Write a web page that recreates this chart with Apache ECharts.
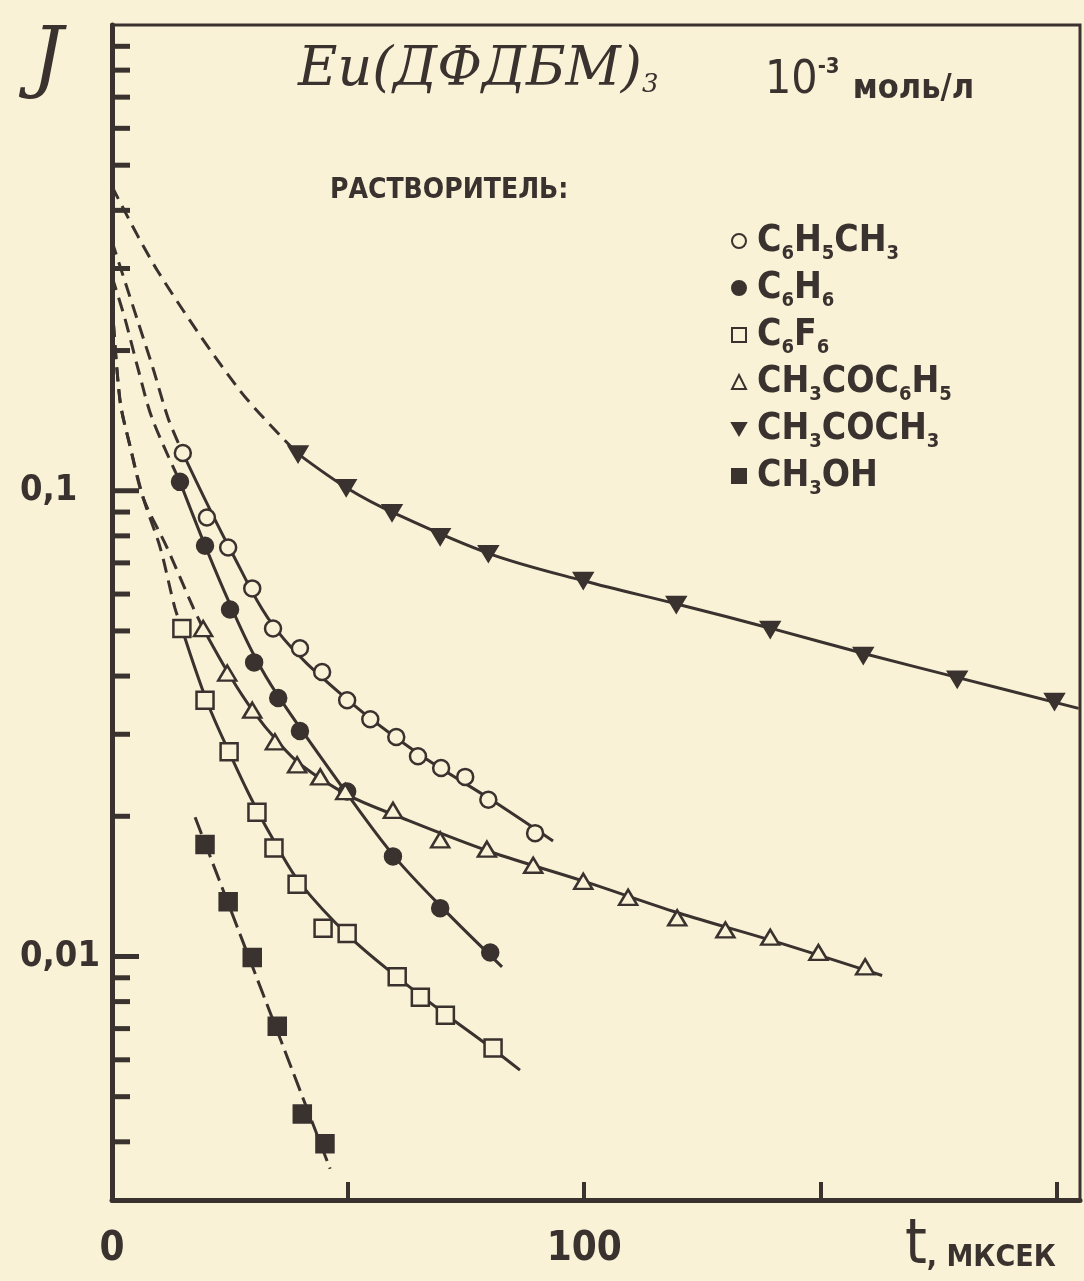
<!DOCTYPE html>
<html lang="ru">
<head>
<meta charset="UTF-8" />
<title>Eu(ДФДБМ)3 — кинетика затухания</title>
<script src="https://cdn.jsdelivr.net/npm/echarts@6.0.0/dist/echarts.min.js"></script>
<style>
  html, body { margin: 0; padding: 0; background: #faf2d6; }
  #chart { width: 1084px; height: 1281px; }
</style>
</head>
<body>
<div id="chart"></div>
<script>
// растворители (порядок как в легенде)
const solvents = ['C6H5CH3', 'C6H6', 'C6F6', 'CH3COC6H5', 'CH3COCH3', 'CH3OH'];

const toluenePts = [[15.0,0.1205],[20.1,0.0876],[24.6,0.0755],[29.7,0.0617],[34.1,0.0506],[39.8,0.0459],[44.5,0.0408],[49.8,0.0355],[54.7,0.0323],[60.2,0.0296],[64.8,0.0269],[69.7,0.0254],[74.8,0.0243],[79.7,0.0217],[89.6,0.0184]];
const benzenePts = [[14.4,0.1045],[19.7,0.0762],[25.0,0.0556],[30.1,0.0428],[35.2,0.0359],[39.8,0.0305],[49.8,0.0226],[59.5,0.0164],[69.5,0.0127],[80.1,0.0102]];
const c6f6Pts = [[14.8,0.0506],[19.7,0.0355],[24.8,0.0275],[30.7,0.0204],[34.3,0.0171],[39.2,0.0143],[44.7,0.0115],[49.8,0.0112],[60.4,0.00905],[65.3,0.00817],[70.6,0.00748],[80.7,0.00636]];
const acetophenonePts = [[19.3,0.0506],[24.4,0.0406],[29.7,0.0338],[34.5,0.0289],[39.2,0.0258],[44.1,0.0243],[49.4,0.0226],[59.5,0.0206],[69.5,0.0178],[79.4,0.0170],[89.2,0.0157],[99.8,0.0145],[109.3,0.0134],[119.7,0.0121],[129.9,0.0114],[139.4,0.0110],[149.6,0.0102],[159.5,0.0095]];
const acetonePts = [[39.4,0.120],[49.6,0.1015],[59.3,0.0897],[69.5,0.0797],[79.7,0.0733],[99.8,0.0642],[119.5,0.0570],[139.4,0.0504],[159.1,0.0443],[179.0,0.0394],[199.6,0.0353]];
const methanolPts = [[19.7,0.0174],[24.6,0.0131],[29.7,0.00995],[35.0,0.00708],[40.3,0.00459],[45.1,0.00396]];

// проведённые от руки кривые (опорные точки)
const tolueneCurve = [[15,0.1205],[25,0.075],[35,0.050],[50,0.0355],[65,0.0272],[80,0.0218],[93.4,0.0177]];
const benzeneCurve = [[14.4,0.1045],[20,0.075],[25,0.057],[30,0.0445],[35,0.0365],[50,0.0222],[60,0.0163],[70,0.0127],[82.6,0.0095]];
const c6f6Curve = [[14.8,0.0506],[20,0.0355],[25,0.0272],[30,0.0213],[35,0.0172],[40,0.0143],[50,0.0111],[60,0.0091],[70,0.0076],[80,0.0064],[86.4,0.0057]];
const acetophenoneCurve = [[19.3,0.0506],[25,0.040],[30,0.0335],[35,0.0290],[40,0.0258],[50,0.0222],[60,0.0201],[80,0.0168],[100,0.0145],[120,0.0124],[140,0.0108],[163.1,0.0091]];
const acetoneCurve = [[39.4,0.120],[50,0.101],[60,0.0893],[80,0.0732],[100,0.0640],[120,0.0570],[140,0.0505],[160,0.0445],[180,0.0395],[204.7,0.0341]];
const methanolCurve = [[17.6,0.0199],[46.2,0.0035]];

// пунктирная экстраполяция к t = 0
const tolueneDash = [[0,0.343],[5.3,0.234],[8.7,0.183],[11.9,0.143],[15.0,0.1205]];
const benzeneDash = [[0,0.288],[2.75,0.234],[5.5,0.183],[8.5,0.143],[14.4,0.1045]];
const c6f6Dash = [[0,0.255],[1.7,0.156],[3.8,0.125],[6.6,0.0966],[10.2,0.0755],[13.3,0.0561],[14.8,0.0506]];
const acetophenoneDash = [[0,0.255],[1.7,0.156],[3.8,0.125],[6.6,0.0966],[11.65,0.0755],[17.2,0.0561],[19.3,0.0506]];
const acetoneDash = [[0,0.45],[9.7,0.296],[27.1,0.164],[39.4,0.120]];

// шкалы
const xTicks = [0, 50, 100, 150, 200];
const xLabels = [0, 100];
const yMajorTicks = [0.01, 0.1];
const yMinorTicks = [0.004,0.005,0.006,0.007,0.008,0.009,0.02,0.03,0.04,0.05,0.06,0.07,0.08,0.09,0.2,0.3,0.4,0.5,0.6,0.7,0.8,0.9];

const ink = '#3a322e';
const paper = '#faf2d6';
const condensed = "'DejaVu Sans Condensed', 'Liberation Sans Narrow', 'DejaVu Sans', sans-serif";

const chart = echarts.init(document.getElementById('chart'));

const markerStyle = {
  'C6H5CH3':   { symbol: 'circle', size: 16, fill: paper },
  'C6H6':      { symbol: 'circle', size: 16, fill: ink },
  'C6F6':      { symbol: 'rect', size: 17, fill: paper },
  'CH3COC6H5': { symbol: 'triangle', size: [18, 15], fill: paper },
  'CH3COCH3':  { symbol: 'path://M0,0 L10,0 L5,8.5 Z', size: [18, 15], fill: ink },
  'CH3OH':     { symbol: 'rect', size: 17, fill: ink }
};

const legendText = {
  'C6H5CH3': 'C{s|6}H{s|5}CH{s|3}',
  'C6H6': 'C{s|6}H{s|6}',
  'C6F6': 'C{s|6}F{s|6}',
  'CH3COC6H5': 'CH{s|3}COC{s|6}H{s|5}',
  'CH3COCH3': 'CH{s|3}COCH{s|3}',
  'CH3OH': 'CH{s|3}OH'
};

const groups = [
  { name: 'C6H5CH3', pts: toluenePts, curve: tolueneCurve, dash: tolueneDash },
  { name: 'C6H6', pts: benzenePts, curve: benzeneCurve, dash: benzeneDash },
  { name: 'C6F6', pts: c6f6Pts, curve: c6f6Curve, dash: c6f6Dash },
  { name: 'CH3COC6H5', pts: acetophenonePts, curve: acetophenoneCurve, dash: acetophenoneDash },
  { name: 'CH3COCH3', pts: acetonePts, curve: acetoneCurve, dash: acetoneDash },
  { name: 'CH3OH', pts: methanolPts, curve: methanolCurve, dashedAll: true }
];

const series = [];
groups.forEach(g => {
  series.push({
    name: g.name + ' fit', type: 'line', data: g.curve, symbol: 'none',
    smooth: 0.35, silent: true, z: 2,
    lineStyle: { color: ink, width: 3, type: g.dashedAll ? [18, 7] : 'solid' }
  });
  if (g.dash) {
    series.push({
      name: g.name + ' extr', type: 'line', data: g.dash, symbol: 'none',
      smooth: 0.3, silent: true, z: 2,
      lineStyle: { color: ink, width: 3, type: [14, 8] }
    });
  }
  const m = markerStyle[g.name];
  series.push({
    name: g.name, type: 'scatter', data: g.pts, z: 4,
    symbol: m.symbol, symbolSize: m.size,
    itemStyle: { color: m.fill, borderColor: ink, borderWidth: 2.5, opacity: 1 }
  });
});

// малые и большие деления оси I
function tickSeries(values, len) {
  return {
    type: 'custom', silent: true, z: 5, clip: false,
    data: values.map(v => [0, v]),
    renderItem: (params, api) => {
      const p = api.coord([api.value(0), api.value(1)]);
      return { type: 'line', shape: { x1: p[0], y1: p[1], x2: p[0] + len, y2: p[1] },
        style: { stroke: ink, lineWidth: 5 } };
    }
  };
}
series.push(tickSeries(yMinorTicks, 18));
series.push(tickSeries(yMajorTicks, 27));

const option = {
  backgroundColor: paper,
  animation: false,
  grid: { left: 112, right: 4, top: 25, bottom: 81, show: true, borderColor: ink, borderWidth: 3 },
  xAxis: {
    type: 'value', min: 0, max: 205, interval: 50,
    splitLine: { show: false },
    axisLine: { lineStyle: { color: ink, width: 5 } },
    axisTick: { inside: true, length: 18, lineStyle: { color: ink, width: 4 },
      customValues: xTicks },
    axisLabel: {
      margin: 30, color: ink, fontSize: 40, fontWeight: 'bold', fontFamily: condensed,
      customValues: xLabels,
      formatter: v => (xLabels.indexOf(v) >= 0 ? String(v) : '')
    }
  },
  yAxis: {
    type: 'log', logBase: 10, min: 0.003, max: 1,
    splitLine: { show: false },
    axisLine: { lineStyle: { color: ink, width: 5 } },
    axisTick: { show: false },
    axisLabel: {
      color: ink, fontSize: 36, fontWeight: 'bold', fontFamily: condensed,
      align: 'left', margin: 92,
      formatter: v => {
        if (Math.abs(v - 0.1) < 1e-9) return '0,1';
        if (Math.abs(v - 0.01) < 1e-9) return '0,01';
        return '';
      }
    }
  },
  legend: {
    data: solvents, orient: 'vertical', left: 726, top: 213,
    selectedMode: false, itemWidth: 14, itemHeight: 14, itemGap: 1,
    formatter: name => legendText[name],
    textStyle: {
      color: ink, fontSize: 37, fontWeight: 'bold', fontFamily: condensed, lineHeight: 46,
      padding: [0, 0, 0, 6],
      rich: { s: { fontSize: 20, fontWeight: 'bold', fontFamily: condensed, color: ink, verticalAlign: 'bottom' } }
    }
  },
  graphic: [
    { type: 'text', left: 32, top: 24, style: { text: 'J', fill: ink,
        font: 'italic 78px "DejaVu Serif", serif' } },
    { type: 'text', left: 298, top: 44, style: {
        text: 'Eu(ДФДБМ){s|3}', fill: ink,
        font: 'italic 54px "DejaVu Serif", serif',
        rich: { s: { fontSize: 26, fontFamily: 'DejaVu Serif', fontStyle: 'italic', fill: ink, verticalAlign: 'bottom' } } } },
    { type: 'text', left: 765, top: 56, style: {
        text: '10{sup|-3} {u|моль/л}', fill: ink,
        font: '46px ' + condensed,
        rich: {
          sup: { fontSize: 22, fontWeight: 'bold', fontFamily: condensed, fill: ink, verticalAlign: 'top' },
          u: { fontSize: 34, fontWeight: 'bold', fontFamily: condensed, fill: ink, padding: [16, 0, 0, 0] }
        } } },
    { type: 'text', left: 330, top: 177, style: { text: 'РАСТВОРИТЕЛЬ:', fill: ink,
        font: 'bold 28px ' + condensed } },
    { type: 'text', left: 905, top: 1216, style: {
        text: 't{u|, МКСЕК}', fill: ink, font: '62px "DejaVu Sans Condensed", sans-serif',
        rich: { u: { fontSize: 30, fontWeight: 'bold', fontFamily: condensed, fill: ink, padding: [22, 0, 0, 0] } } } }
  ],
  series: series
};

chart.setOption(option);
</script>
</body>
</html>
